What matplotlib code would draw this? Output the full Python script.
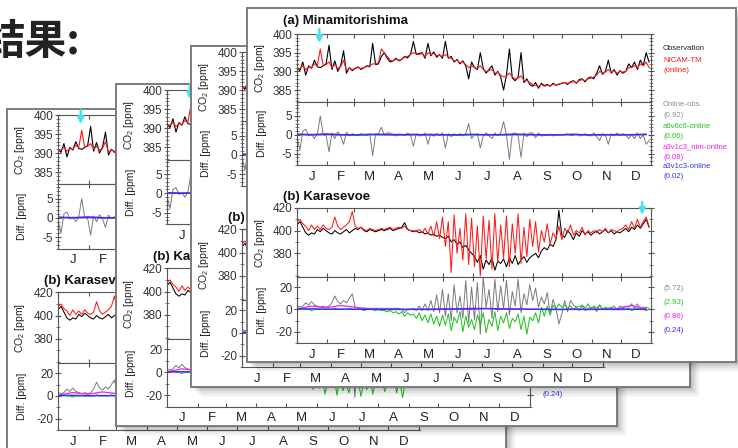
import numpy as np
import matplotlib
matplotlib.use('Agg')
import matplotlib.pyplot as plt
from matplotlib.patches import Rectangle
from matplotlib.ticker import FixedLocator, NullFormatter, FixedFormatter, MultipleLocator

plt.rcParams['font.family'] = ['Liberation Sans', 'DejaVu Sans']
plt.rcParams['mathtext.default'] = 'regular'
plt.rcParams['axes.unicode_minus'] = False

# ---------------- data ----------------
days = np.arange(0, 366, 3)        # sample days (122)
days_h = np.arange(0, 361, 15)     # half-month samples (25)
month_starts = [0, 31, 59, 90, 120, 151, 181, 212, 243, 273, 304, 334, 365]
month_labels = ['J', 'F', 'M', 'A', 'M', 'J', 'J', 'A', 'S', 'O', 'N', 'D']

obs_a = [391.0, 390.2, 392.5, 389.0, 391.5, 390.8, 393.0, 391.2, 391.0, 391.5, 392.0,
         397.0, 390.5, 392.8, 390.0, 391.5, 395.5, 389.5, 391.0, 390.2,
         390.8, 391.2, 390.5, 391.0, 391.5, 391.2, 397.5, 391.8, 392.0, 394.0,
         395.0, 393.5, 392.5, 392.8, 393.5, 392.8, 393.2, 394.0, 393.6, 394.5,
         398.0, 394.5, 394.8, 395.0, 393.5, 397.5, 394.2, 395.2, 393.8, 394.5, 393.5,
         398.0, 393.5, 394.0, 392.5, 393.2, 392.0, 392.8, 391.5, 388.0, 392.5,
         391.0, 390.5, 395.0, 390.8, 389.5, 390.5, 391.5, 389.0, 390.0, 388.5,
         385.0, 389.0, 396.0, 388.2, 387.5, 388.5, 395.0, 387.0, 388.0, 386.5,
         386.0, 387.0, 385.5, 386.8, 386.2, 386.5, 386.0, 386.8, 386.3, 386.5,
         386.8, 387.0, 386.5, 387.2, 387.5, 386.8, 387.8, 388.0, 387.2, 388.2, 388.5,
         388.0, 389.5, 391.5, 389.2, 390.0, 393.0, 389.5, 390.5, 389.0, 390.2,
         389.5, 390.0, 392.0, 391.0, 392.5, 390.5, 393.0, 391.5, 395.0, 392.5]
mod_a = [390.5, 390.8, 391.5, 390.5, 391.2, 391.0, 392.0, 391.5, 396.0, 391.5, 391.8,
         392.5, 391.0, 391.8, 390.8, 391.2, 393.0, 390.2, 390.8, 390.5,
         390.8, 391.0, 390.8, 391.0, 391.3, 391.5, 392.0, 392.0, 392.3, 396.0,
         395.0, 394.0, 393.0, 392.8, 393.2, 393.0, 393.3, 393.8, 394.0, 394.5,
         395.0, 394.8, 394.5, 394.8, 394.0, 395.0, 394.5, 394.8, 394.2, 394.3, 394.0,
         394.5, 393.8, 393.5, 392.8, 393.0, 392.3, 392.5, 391.8, 391.0, 391.5,
         391.0, 390.8, 391.5, 390.5, 390.0, 390.2, 390.5, 389.5, 389.8, 389.0,
         388.5, 388.8, 389.5, 388.5, 388.0, 388.2, 388.8, 387.5, 387.5, 387.0,
         386.5, 386.2, 386.0, 386.5, 386.0, 386.3, 386.2, 386.5, 386.4, 386.6,
         386.8, 387.0, 386.8, 387.0, 387.3, 387.0, 387.5, 387.8, 387.5, 388.0, 388.2,
         388.5, 389.0, 390.0, 389.5, 389.8, 390.5, 389.8, 390.2, 389.5, 390.0,
         389.8, 390.0, 391.0, 391.0, 391.5, 391.0, 392.0, 391.5, 392.5, 391.0]
gray_a = [-0.5, -4.0, 1.0, 1.5, -0.3, 0.2, -1.0, 0.3, 5.0, 0.0, -0.2,
          -4.5, 0.5, -1.0, 0.8, -0.3, -2.5, 0.7, -0.2, 0.3,
          0.0, -0.2, 0.3, 0.0, -0.2, 0.3, -5.5, 0.2, 0.3, 2.0,
          0.0, 0.5, 0.5, 0.0, -0.3, 0.2, 0.1, -0.2, 0.4, 0.0,
          -3.0, 0.3, -0.3, -0.2, 0.5, -2.5, 0.3, -0.4, 0.4, -0.2, 0.5,
          -3.5, 0.3, -0.5, 0.3, -0.2, 0.3, -0.3, 0.3, 3.0, -1.0,
          0.0, 0.3, -3.5, -0.3, 0.5, -0.3, -1.0, 0.5, -0.2, 0.5,
          3.5, -0.2, -6.5, 0.3, 0.5, -0.3, -6.0, 0.5, -0.5, 0.5,
          0.5, -0.8, 0.5, -0.3, -0.2, -0.2, 0.2, -0.3, 0.1, 0.1,
          0.0, 0.0, 0.3, -0.2, -0.2, 0.2, -0.3, -0.2, 0.3, -0.2, -0.3,
          0.5, -0.5, -1.5, 0.3, -0.2, -2.5, 0.3, -0.3, 0.5, -0.2,
          0.3, 0.0, -1.0, 0.0, -1.0, 0.5, -1.0, 0.0, -2.5, -1.5]
green_a = [0.1, 0.0, 0.1, 0.0, -0.1, 0.0, 0.1, 0.0, 0.0, 0.1, 0.0, -0.1, 0.0,
           0.1, 0.0, 0.0, 0.1, 0.0, 0.0, 0.1, 0.0, 0.0, 0.1, 0.0, 0.1]
magenta_a = [0.2, 0.1, 0.3, 0.1, 0.0, 0.1, 0.2, 0.1, 0.0, 0.1, 0.1, 0.0, 0.1,
             0.0, 0.1, 0.2, 0.1, 0.0, 0.0, 0.1, 0.0, 0.1, 0.0, 0.1, 0.1]
blue_a = [0.1, 0.0, 0.1, 0.0, 0.0, 0.1, 0.0, 0.0, 0.1, 0.0, 0.0, 0.0, 0.1,
          0.0, 0.0, 0.1, 0.0, 0.0, 0.0, 0.1, 0.0, 0.0, 0.0, 0.0, 0.1]

obs_b = [405, 408, 403, 398, 396, 398, 397, 401, 399, 402, 400,
         398, 397, 400, 398, 397, 399, 401, 398, 400,
         402, 401, 403, 400, 399, 401, 400, 399, 400, 401,
         400, 401, 402, 400, 401, 402, 403, 407, 401, 400,
         399, 400, 398, 399, 397, 398, 396, 397, 395, 396, 394,
         393, 395, 390, 392, 388, 390, 385, 387, 383, 380,
         377, 372, 378, 366, 374, 370, 376, 365, 373, 371,
         375, 368, 376, 371, 378, 370, 374, 377, 372, 376,
         378, 380, 376, 382, 385, 383, 388, 386, 392, 418,
         396, 394, 400, 397, 392, 398, 395, 400, 397, 399, 396,
         398, 400, 397, 399, 401, 398, 400, 397, 399, 398,
         400, 402, 399, 403, 401, 405, 402, 406, 410, 403]
mod_b = [408, 410, 406, 404, 400, 405, 401, 404, 401, 405, 402,
         401, 403, 412, 404, 401, 403, 405, 408, 417,
         404, 402, 403, 401, 400, 402, 401, 400, 401, 402,
         401, 402, 403, 401, 402, 403, 402, 404, 401, 400,
         400, 399, 401, 398, 402, 397, 404, 395, 408, 393, 412,
         386, 408, 363, 414, 380, 402, 374, 415, 370, 411,
         368, 404, 360, 413, 375, 409, 366, 415, 372, 405,
         376, 413, 368, 406, 380, 415, 371, 403, 377, 410,
         386, 408, 381, 400, 390, 406, 388, 398, 393, 404,
         392, 402, 398, 405, 396, 400, 398, 403, 396, 400, 398,
         400, 398, 401, 399, 402, 398, 401, 400, 399, 401,
         402, 405, 401, 408, 402, 410, 403, 408, 412, 404]
gray_b = [3, 2, 3, 6, 4, 7, 4, 3, 2, 3, 2,
          3, 6, 12, 7, 5, 8, 6, 10, 14,
          2, 1, 0, 1, 1, 1, 1, 1, 1, 1,
          1, 1, 1, 1, 1, 1, 0, -3, 0, 0,
          1, -1, 3, -1, 5, -1, 8, -2, 13, -3, 18,
          -6, 14, -10, 22, -3, 12, -8, 26, -12, 20,
          -9, 24, -22, 29, 2, 18, -8, 27, -2, 21,
          1, 26, -5, 16, 3, 27, -3, 14, 4, 22,
          8, 19, 2, 11, 5, 15, -4, 9, 1, -13,
          -4, 8, -2, 8, 4, 2, 3, 3, -1, 1, 2,
          2, -2, 4, 0, 1, 0, 1, 3, 0, 3,
          2, 3, 2, 5, 1, 5, 1, 2, 2, 1]
green_b = [0, 0, 1, 0, 0, -1, 0, 0, 0, 0, 0,
           0, 0, 1, 0, 0, 0, 0, 1, 0,
           0, 0, 0, -1, 0, 0, 0, -1, 0, -1,
           -1, -2, -1, -3, -2, -4, -2, -6, -3, -5,
           -4, -8, -3, -10, -5, -12, -4, -13, -6, -15, -5,
           -14, -4, -19, -7, -12, -2, -20, -6, -16, -9,
           -18, -5, -13, -3, -21, -9, -15, -2, -19, -6,
           -12, -3, -17, -8, -11, -4, -18, -6, -22, -7,
           -10, -3, -12, 2, -6, 3, -5, 4, 0, 5,
           2, 4, 1, 3, 0, 2, -1, 4, 1, 5, 0,
           3, 1, 4, 0, 2, 1, 2, 0, 1, 0,
           1, 0, 1, -1, 0, 1, 0, 0, -1, 0]
magenta_b = [0.5, 3.0, 1.5, 3.5, 2.0, 0.5, 0.0, 0.2, 0.0, 0.3, 0.5, 0.2, 0.0,
             0.8, 0.2, 0.5, 0.0, 0.2, 0.0, 0.3, 0.0, 0.2, 0.5, 3.5, 0.5]
blue_b = [0.3, 0.5, 0.2, 0.3, 0.2, 0.1, 0.0, 0.0, 0.1, 0.0, 0.2, 0.5, 0.8,
          0.8, 0.5, 0.3, 0.2, 0.1, 0.0, 0.1, 0.0, 0.1, 0.0, 0.2, 0.1]

arrow_day_a = 23
arrow_day_b = 356
titles = ['(a) Minamitorishima', '(b) Karasevoe']
legend_top = ['Observation', 'NICAM-TM', '(online)']
legend_diff = ['Online-obs.', 'a6v6c6-online', 'a3v1c3_nim-online', 'a3v1c3-online']
rms_a = ['(0.92)', '(0.06)', '(0.08)', '(0.02)']
rms_b = ['(5.72)', '(2.93)', '(0.86)', '(0.24)']
slide_title = '结果:'

# ---------------- styling ----------------
C_OBS, C_MOD = '#000000', '#ff1a1a'
C_GRAY, C_GREEN, C_MAG, C_BLUE = '#7a7a7a', '#22c422', '#f020f0', '#3535ee'
C_TXT_GRAY = '#8f8f8f'
C_CYAN = '#45e3ef'

W, H = 738, 448
fig = plt.figure(figsize=(W / 100, H / 100), dpi=100)
fig.patch.set_facecolor('white')

month_mids = [(month_starts[i] + month_starts[i + 1]) / 2 for i in range(12)]


def frect(x0, y0, x1, y1):
    return [x0 / W, 1 - y1 / H, (x1 - x0) / W, (y1 - y0) / H]


def style(ax, ylim, yt, ymin, xlabels):
    ax.set_xlim(0, 365)
    ax.set_ylim(*ylim)
    ax.xaxis.set_major_locator(FixedLocator(month_starts))
    ax.xaxis.set_major_formatter(NullFormatter())
    ax.xaxis.set_minor_locator(FixedLocator(month_mids))
    if xlabels:
        ax.xaxis.set_minor_formatter(FixedFormatter(month_labels))
    else:
        ax.xaxis.set_minor_formatter(NullFormatter())
    ax.tick_params(axis='x', which='major', direction='in', top=True, bottom=True,
                   length=3, width=0.8, color='#555555')
    ax.tick_params(axis='x', which='minor', length=0, labelsize=9.5, pad=4,
                   labelcolor='#222222')
    ax.set_yticks(yt)
    ax.yaxis.set_minor_locator(MultipleLocator(ymin))
    ax.tick_params(axis='y', which='major', direction='inout', left=True, right=True,
                   length=5, width=0.8, labelsize=8.5, pad=1, color='#555555',
                   labelcolor='#333333')
    ax.tick_params(axis='y', which='minor', direction='inout', left=True, right=True,
                   length=2.5, width=0.6, color='#666666')
    for sp in ax.spines.values():
        sp.set_color('#555555')
        sp.set_linewidth(0.8)


def cyan_arrow(ax, day, up, down, h):
    ax.annotate('', xy=(day, 1 - down / h), xytext=(day, 1 + up / h),
                xycoords=('data', 'axes fraction'), textcoords=('data', 'axes fraction'),
                arrowprops=dict(arrowstyle='-|>', color=C_CYAN, lw=1.8,
                                mutation_scale=9, shrinkA=0, shrinkB=0),
                annotation_clip=False)


def draw_card(axl, y400, s, top_rel, full):
    cx0, cx1 = axl - 50 * s, axl + 439 * s
    cy0, cy1 = y400 + top_rel * s, y400 + 328 * s
    sh = fig.add_axes(frect(cx0, cy0, cx1, cy1))
    sh.axis('off')
    for d, a in [(10, 0.03), (8, 0.04), (6, 0.05), (4, 0.07), (2, 0.08)]:
        sh.add_patch(Rectangle(((cx0 + d) / W, 1 - (cy1 + d) / H), (cx1 - cx0) / W,
                               (cy1 - cy0) / H, transform=fig.transFigure,
                               facecolor='black', alpha=a, edgecolor='none',
                               clip_on=False))
    bg = fig.add_axes(frect(cx0, cy0, cx1, cy1))
    bg.set_xticks([])
    bg.set_yticks([])
    bg.set_facecolor('white')
    for sp in bg.spines.values():
        sp.set_color('#7c7c7c')
        sp.set_linewidth(1.4)

    def T(xr, yr, txt, **kw):
        bg.text((axl + xr * s) / W, 1 - (y400 + yr * s) / H, txt,
                transform=fig.transFigure, va='center', ha='left', **kw)

    if full:
        T(-14, -13, titles[0], fontsize=9.5, fontweight='bold', color='#111111')
    T(-14, 163, titles[1], fontsize=9.5, fontweight='bold', color='#111111')
    fs = 5.6
    T(366, 14, legend_top[0], fontsize=fs, color='#222222')
    T(366, 26, legend_top[1], fontsize=fs, color=C_MOD)
    T(366, 37, legend_top[2], fontsize=fs, color=C_MOD)
    cols = [C_TXT_GRAY, C_GREEN, C_MAG, C_BLUE]
    ys_name = [70, 92, 113, 132]
    ys_val = [81, 103, 123, 143]
    for i in range(4):
        T(366, ys_name[i], legend_diff[i], fontsize=fs, color=cols[i])
        T(366, ys_val[i], rms_a[i], fontsize=fs, color=cols[i])
    for i, yr in enumerate([255, 269, 283, 297]):
        T(366, yr, rms_b[i], fontsize=fs, color=cols[i])

    def dax(y0r, y1r):
        return fig.add_axes(frect(axl, y400 + y0r * s, axl + 354 * s, y400 + y1r * s))

    # (a) CO2
    a1 = dax(0, 68)
    a1.plot(days, obs_a, color=C_OBS, lw=0.8)
    a1.plot(days, mod_a, color=C_MOD, lw=0.8)
    style(a1, (381.8, 400), [385, 390, 395, 400], 1, False)
    a1.set_ylabel(r'CO$_2$ [ppm]', fontsize=7.5, color='#222222')
    a1.yaxis.set_label_coords(-30 / 354, 0.5)
    cyan_arrow(a1, arrow_day_a, 5, 9, 68)
    # (a) diff
    a2 = dax(68, 131)
    a2.plot(days, gray_a, color=C_GRAY, lw=0.7)
    a2.plot(days_h, green_a, color=C_GREEN, lw=0.9)
    a2.plot(days_h, magenta_a, color=C_MAG, lw=0.9)
    a2.plot(days_h, blue_a, color=C_BLUE, lw=1.1)
    style(a2, (-8, 8.7), [-5, 0, 5], 1, True)
    a2.set_ylabel('Diff. [ppm]', fontsize=7.5, color='#222222')
    a2.yaxis.set_label_coords(-30 / 354, 0.5)
    # (b) CO2
    b1 = dax(174, 243)
    b1.plot(days, obs_b, color=C_OBS, lw=0.75)
    b1.plot(days, mod_b, color=C_MOD, lw=0.75)
    style(b1, (359, 420), [380, 400, 420], 10, False)
    b1.set_ylabel(r'CO$_2$ [ppm]', fontsize=7.5, color='#222222')
    b1.yaxis.set_label_coords(-30 / 354, 0.5)
    cyan_arrow(b1, arrow_day_b, 6, 7, 69)
    # (b) diff
    b2 = dax(243, 309)
    b2.plot(days, gray_b, color=C_GRAY, lw=0.7)
    b2.plot(days, green_b, color=C_GREEN, lw=0.75)
    b2.plot(days_h, magenta_b, color=C_MAG, lw=0.9)
    b2.plot(days_h, blue_b, color=C_BLUE, lw=1.1)
    style(b2, (-30, 29), [-20, 0, 20], 10, True)
    b2.set_ylabel('Diff. [ppm]', fontsize=7.5, color='#222222')
    b2.yaxis.set_label_coords(-30 / 354, 0.5)


# back to front
draw_card(58, 115, 1.02, -6, False)
draw_card(167, 90, 1.025, -6, False)
draw_card(242, 52, 1.02, -6, False)
draw_card(297, 34, 1.0, -26, True)

fig.text(-17 / W, 1 - 42 / H, slide_title, fontsize=30, fontweight='bold',
         family=['Noto Sans CJK SC', 'DejaVu Sans'], color='#222222',
         va='center', ha='left')

fig.savefig('out.png', dpi=100)
